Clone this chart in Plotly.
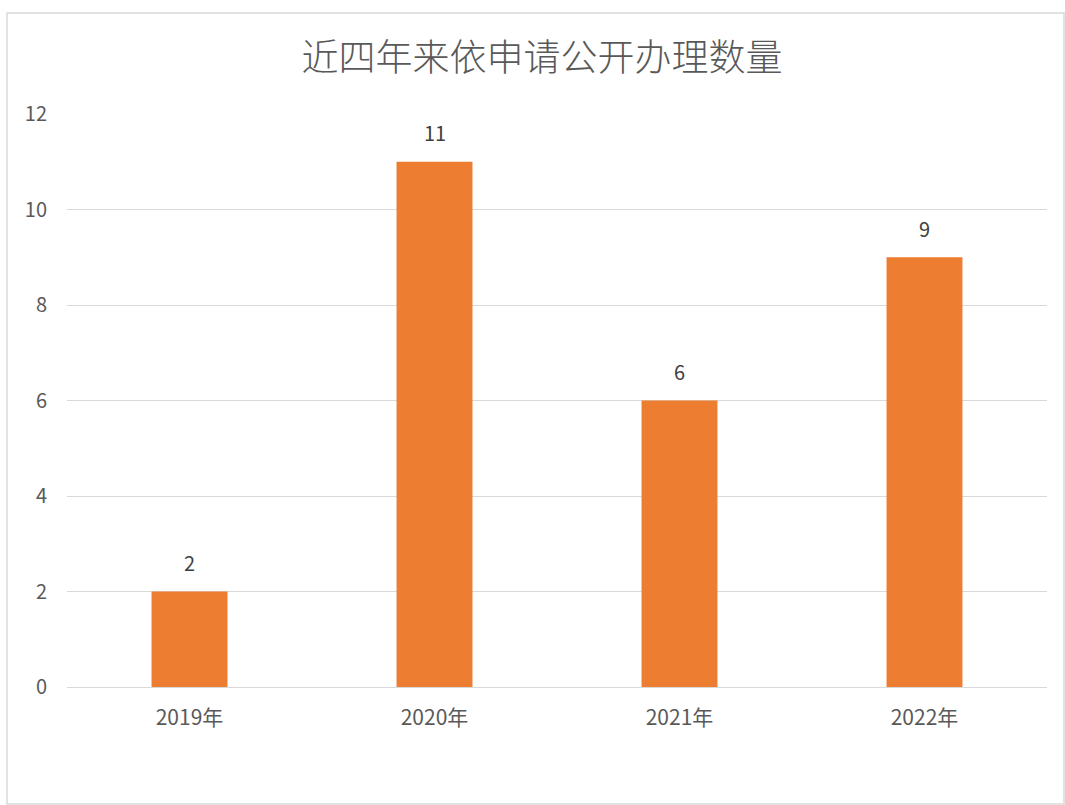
import plotly.graph_objects as go

categories = ["2019年", "2020年", "2021年", "2022年"]
values = [2, 11, 6, 9]
title_text = "近四年来依申请公开办理数量"

FONT = "Noto Sans CJK SC, Noto Sans, sans-serif"

fig = go.Figure(go.Bar(
    x=categories, y=values,
    marker=dict(color="#ED7D31", line=dict(width=0)),
    width=0.31,
    cliponaxis=False,
    hoverinfo="x+y",
))

annotations = [
    dict(x=c, y=v, xref="x", yref="y", text=str(v), showarrow=False,
         yanchor="middle", xanchor="center", yshift=29,
         font=dict(size=20, color="#404040", family=FONT))
    for c, v in zip(categories, values)
]

fig.update_layout(
    width=1065, height=805,
    margin=dict(l=67, r=18, t=114, b=118),
    paper_bgcolor="white", plot_bgcolor="white",
    title=dict(text=title_text, x=542/1065, xanchor="center", y=1 - 58/805, yanchor="middle",
               font=dict(size=37, color="#595959", family=FONT, weight=300)),
    font=dict(family=FONT, color="#595959", size=20),
    showlegend=False,
    annotations=annotations,
    xaxis=dict(showgrid=False, showline=True, linecolor="#D9D9D9", linewidth=1,
               ticks="", tickfont=dict(size=21, color="#595959"), ticklabelstandoff=12),
    yaxis=dict(range=[0, 12], dtick=2, showgrid=True, gridcolor="#D9D9D9", gridwidth=1,
               zeroline=False, showline=False, ticks="", tickfont=dict(size=20, color="#595959"),
               ticklabelstandoff=19),
    shapes=[dict(type="rect", xref="paper", yref="paper",
                 x0=-60/980, x1=(1064-67)/980, y0=-117/573, y1=(687-13)/573,
                 line=dict(color="#D9D9D9", width=1.5), fillcolor="rgba(0,0,0,0)", layer="below")],
)

fig.write_html("out.html")
